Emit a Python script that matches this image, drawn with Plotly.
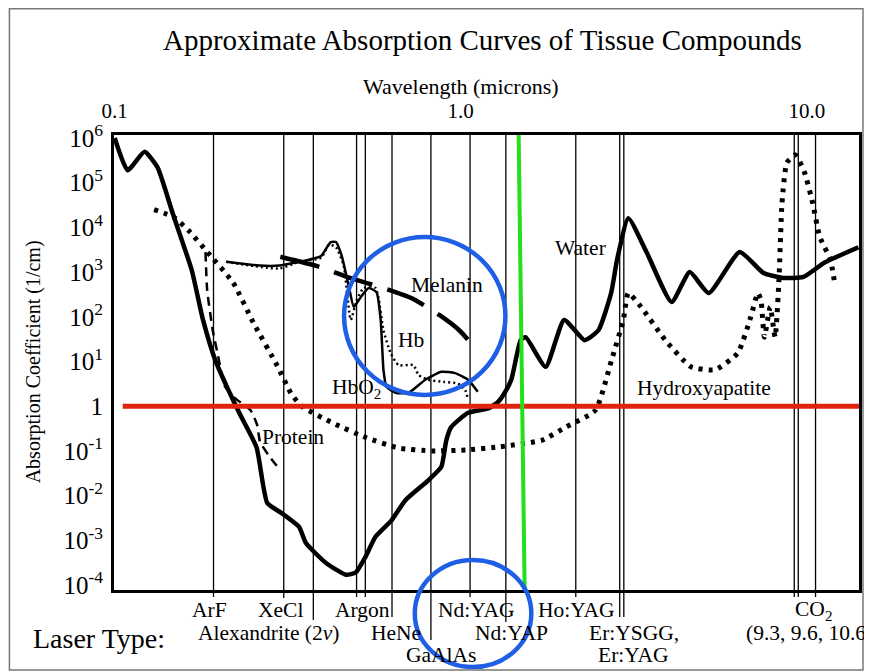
import plotly.graph_objects as go

# ---------------- data ----------------
water_wl = [0.100, 0.109, 0.122, 0.133, 0.147, 0.167, 0.180, 0.195, 0.211, 0.229, 0.257, 0.276,
            0.303, 0.341, 0.357, 0.408, 0.466, 0.497, 0.531, 0.567, 0.631, 0.692, 0.806, 0.879,
            0.908, 0.938, 1.05, 1.20, 1.28, 1.34, 1.40, 1.49, 1.54, 1.76, 1.99, 2.28, 2.50, 2.72,
            2.83, 3.05, 3.45, 4.07, 4.59, 5.21, 6.40, 7.5, 8.56, 9.78, 11.2, 14.1]
water_abs = [1.0e6, 1.9e5, 4.9e5, 2.2e5, 2.1e4, 1.1e3, 85, 11, 2.7, 0.71, 0.12, 6.8e-3,
             4.1e-3, 2.0e-3, 8.7e-4, 3.1e-4, 1.7e-4, 1.9e-4, 4.3e-4, 1.2e-3, 2.8e-3, 7.9e-3, 0.022, 0.044,
             0.17, 0.34, 0.71, 0.89, 1.23, 2.0, 3.9, 30, 35, 7.6, 85, 30, 50, 340,
             1.9e3, 1.6e4, 2.7e3, 214, 1.0e3, 340, 2.8e3, 955, 740, 780, 1.6e3, 3.6e3]

hydroxy_wl = [0.130, 0.148, 0.163, 0.186, 0.220, 0.252, 0.295, 0.325, 0.350, 0.427, 0.535, 0.665,
              0.828, 1.04, 1.29, 1.72, 2.01, 2.45, 2.73, 2.95, 3.05, 3.32, 3.90, 4.63, 5.43, 6.32,
              6.89, 7.22, 7.37, 7.54, 7.84, 8.10, 8.31, 8.48, 8.76, 9.27, 9.85, 10.4, 10.9, 11.7, 12.0]
hydroxy_abs = [2.5e4, 1.7e4, 8.7e3, 2.7e3, 575, 72, 8.0, 1.8, 0.95, 0.42, 0.195, 0.115,
               0.10, 0.105, 0.123, 0.174, 0.34, 0.81, 11, 85, 340, 166, 30, 7.6, 6.5, 15.5,
               100, 340, 240, 35, 166, 35, 660, 3.5e4, 2.8e5, 4.2e5, 1.7e5, 3.5e4, 6.2e3, 1.9e3, 660]

protein_wl = [0.183, 0.185, 0.192, 0.200, 0.207, 0.223, 0.247, 0.258, 0.263, 0.278, 0.301]
protein_abs = [2.8e3, 400, 50, 11, 3.0, 1.5, 0.81, 0.38, 0.16, 0.081, 0.037]

melanin_wl = [0.301, 0.392, 0.478, 0.583, 0.720, 0.867, 0.990, 1.09]
melanin_abs = [2.2e3, 1.3e3, 740, 470, 263, 110, 50, 22]

hbo2_wl = [0.210, 0.262, 0.299, 0.341, 0.364, 0.395, 0.421, 0.436, 0.453, 0.475, 0.491, 0.514,
           0.542, 0.571, 0.587, 0.598, 0.610, 0.648, 0.707, 0.790, 0.879, 0.963, 1.05, 1.12]
hbo2_abs = [1.7e3, 1.4e3, 1.4e3, 1.7e3, 1.9e3, 2.3e3, 4.7e3, 4.7e3, 2.3e3, 470, 166, 275,
            440, 355, 85, 6.5, 2.7, 2.0, 2.0, 3.9, 5.9, 5.5, 3.9, 2.1]

hb_wl = [0.210, 0.299, 0.341, 0.395, 0.416, 0.436, 0.459, 0.481, 0.501, 0.524, 0.567, 0.578,
         0.598, 0.627, 0.661, 0.730, 0.755, 0.806, 0.890, 0.983, 1.03, 1.05]
hb_abs = [1.7e3, 1.2e3, 1.7e3, 2.1e3, 4.1e3, 3.6e3, 1.4e3, 85, 240, 440, 440, 275,
          50, 15.5, 8.3, 8.3, 5.0, 3.9, 3.5, 3.2, 2.3, 1.4]

laser_wl = [0.193, 0.308, 0.375, 0.500, 0.530, 0.633, 0.820, 1.064, 1.35, 2.15,
            2.88, 2.96, 9.2, 9.45, 10.6]
# page-pixel depth each laser line reaches below the frame
laser_ext = [597, 598, 620, 597, 597, 617, 640, 597, 622, 597, 617, 617, 597, 597, 597]

laser_labels = ["ArF", "XeCl", "Argon", "Nd:YAG", "Ho:YAG", "CO<sub>2</sub>",
                "Alexandrite (2<i>ν</i>)", "HeNe", "Nd:YAP", "Er:YSGG,", "GaAlAs", "Er:YAG"]
laser_label_px = [(210, 610), (281, 610), (363, 610), (477, 610), (578, 610), (816, 610),
                  (270, 633), (397, 633), (513, 633), (636, 633), (442, 655), (635, 655)]

ytick_vals = [1e-4, 1e-3, 1e-2, 1e-1, 1, 1e1, 1e2, 1e3, 1e4, 1e5, 1e6]
ytick_text = ["10<sup>-4</sup>", "10<sup>-3</sup>", "10<sup>-2</sup>", "10<sup>-1</sup>", "1",
              "10<sup>1</sup>", "10<sup>2</sup>", "10<sup>3</sup>", "10<sup>4</sup>",
              "10<sup>5</sup>", "10<sup>6</sup>"]
xtick_vals = [0.1, 1.0, 10.0]
xtick_text = ["0.1", "1.0", "10.0"]

ref_y = [1, 1]
ref_x = [0.1055, 14.2]
green_x = [1.47, 1.53]
green_y = [1.2e6, 7.7e-5]

# ---------------- layout geometry (page pixels; the page body adds an 8px offset) ----------------
O = 8
W, H = 872 - O, 671 - O
L, R, T, B = 114, 862, 135, 590          # page pixels of the plot frame
SERIF = "Liberation Serif, Times New Roman, serif"


def px(x):
    return (x - L) / (R - L)


def py(y):
    return (B - y) / (B - T)


fig = go.Figure()

fig.add_trace(go.Scatter(x=water_wl, y=water_abs, mode="lines",
                         line=dict(color="black", width=4.5, shape="spline", smoothing=0.5)))
fig.add_trace(go.Scatter(x=hydroxy_wl, y=hydroxy_abs, mode="lines",
                         line=dict(color="black", width=5, dash="4px,6px", shape="spline", smoothing=0.5)))
fig.add_trace(go.Scatter(x=protein_wl, y=protein_abs, mode="lines",
                         line=dict(color="black", width=2.5, dash="9px,6px", shape="spline", smoothing=0.5)))
fig.add_trace(go.Scatter(x=melanin_wl, y=melanin_abs, mode="lines",
                         line=dict(color="black", width=4.5, dash="40px,16px", shape="spline", smoothing=0.5)))
fig.add_trace(go.Scatter(x=hbo2_wl, y=hbo2_abs, mode="lines",
                         line=dict(color="black", width=2.5, shape="spline", smoothing=0.5)))
fig.add_trace(go.Scatter(x=hb_wl, y=hb_abs, mode="lines",
                         line=dict(color="black", width=2.5, dash="2px,3px", shape="spline", smoothing=0.5)))
fig.add_trace(go.Scatter(x=ref_x, y=ref_y, mode="lines", line=dict(color="#e1220f", width=5)))
fig.add_trace(go.Scatter(x=green_x, y=green_y, mode="lines", line=dict(color="#22e01c", width=4)))

shapes = []
for wl, ext in zip(laser_wl, laser_ext):
    shapes.append(dict(type="line", xref="x", yref="paper", x0=wl, x1=wl,
                       y0=py(ext), y1=1, line=dict(color="black", width=1.3), layer="below"))
# blue hand-drawn circles
shapes.append(dict(type="circle", xref="paper", yref="paper", x0=px(345), x1=px(507),
                   y0=py(395), y1=py(237), line=dict(color="#1f5fe6", width=4.5)))
shapes.append(dict(type="circle", xref="paper", yref="paper", x0=px(416), x1=px(533),
                   y0=py(667), y1=py(560), line=dict(color="#1f5fe6", width=4.5)))
# screenshot frame
shapes.append(dict(type="rect", xref="paper", yref="paper", x0=px(9), x1=px(866),
                   y0=py(670), y1=py(8.8), line=dict(color="#777777", width=1.5)))

ann = []


def text(s, x, y, size, xanchor="center", **kw):
    ann.append(dict(text=s, x=px(x), y=py(y), xref="paper", yref="paper", showarrow=False,
                    xanchor=xanchor, yanchor="middle",
                    font=dict(family=SERIF, size=size, color="black"), **kw))


text("Approximate Absorption Curves of Tissue Compounds", 484, 40, 29)
text("Wavelength (microns)", 462, 87, 22)
text("Absorption Coefficient (1/cm)", 33, 362, 20, textangle=-90)
text("Laser Type:", 31, 638, 28, xanchor="left")
for lab, (x, y) in zip(laser_labels, laser_label_px):
    text(lab, x, y, 21.5)
text("(9.3, 9.6, 10.6μ)", 747, 633, 21.5, xanchor="left")
text("Water", 582, 248, 21.5)
text("Hydroxyapatite", 706, 388, 21.5)
text("Melanin", 448, 285, 21.5)
text("Hb", 412, 340, 21.5)
text("HbO<sub>2</sub>", 357, 388, 21.5)
text("Protein", 294, 437, 21.5)

fig.update_layout(
    width=W, height=H,
    margin=dict(l=L - O, r=W - (R - O), t=T - O, b=H - (B - O)),
    paper_bgcolor="white", plot_bgcolor="white",
    showlegend=False,
    shapes=shapes, annotations=ann,
    xaxis=dict(type="log", range=[-1.002, 1.1509], side="top",
               tickvals=xtick_vals, ticktext=xtick_text, ticks="",
               tickfont=dict(family=SERIF, size=21, color="black"),
               ticklabelstandoff=6,
               showgrid=False, zeroline=False, showline=True, mirror=True,
               linecolor="black", linewidth=3),
    yaxis=dict(type="log", range=[-4.112, 6.067],
               tickvals=ytick_vals, ticktext=ytick_text, ticks="",
               tickfont=dict(family=SERIF, size=25, color="black"),
               ticklabelstandoff=3,
               showgrid=False, zeroline=False, showline=True, mirror=True,
               linecolor="black", linewidth=3),
)

fig.write_html("out.html", config={"displayModeBar": False})
